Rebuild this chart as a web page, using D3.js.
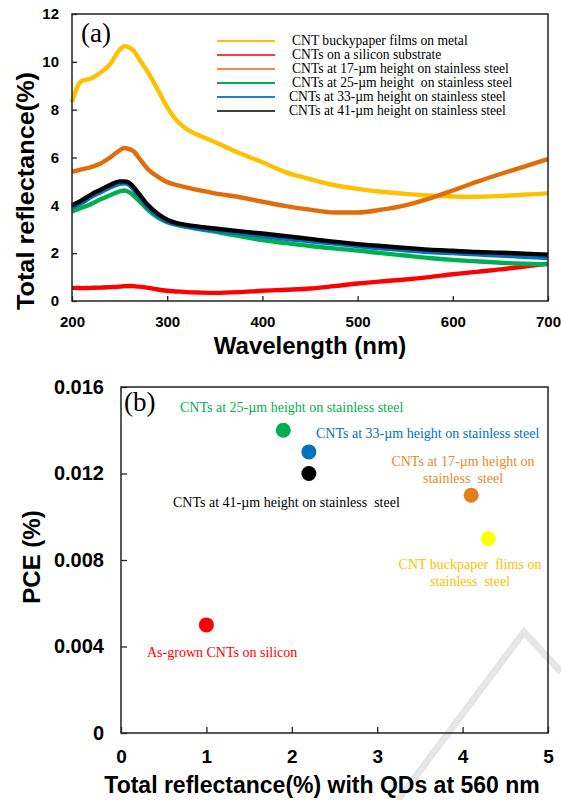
<!DOCTYPE html>
<html lang="en">
<head>
<meta charset="UTF-8">
<title>CNT reflectance and PCE</title>
<script src="https://cdn.jsdelivr.net/npm/d3@7"></script>
<style>
    body { margin: 0; background: #fff; }
    svg { display: block; }
    .tick line { stroke: #222; stroke-width: 1.3; }
    .tick text { font-family: "Liberation Sans", Arial, sans-serif; font-weight: bold; fill: #000; }
    .frame { fill: none; stroke: #222; stroke-width: 1.5; }
    .title { font-family: "Liberation Sans", Arial, sans-serif; font-weight: bold; fill: #000; }
    .serif { font-family: "Liberation Serif", "Times New Roman", serif; }
</style>
</head>
<body>
<svg id="chart" width="561" height="800"></svg>
<script>
// ---- panel (a) data: reflectance spectra ----
const wavelength = [200,205,210,220,230,240,250,255,260,265,270,280,290,300,310,320,335,350,375,400,425,450,475,500,525,550,575,600,625,650,675,700];
const buckypaper = [8.3,8.9,9.2,9.3,9.55,9.9,10.5,10.65,10.6,10.45,10.15,9.55,8.85,8.1,7.55,7.2,6.9,6.65,6.2,5.8,5.38,5.1,4.85,4.69,4.57,4.48,4.41,4.37,4.36,4.39,4.44,4.5];
const onSilicon  = [0.55,0.55,0.54,0.55,0.56,0.58,0.6,0.62,0.63,0.62,0.6,0.55,0.48,0.43,0.4,0.37,0.35,0.34,0.37,0.43,0.47,0.52,0.62,0.73,0.82,0.9,1.0,1.12,1.22,1.32,1.44,1.56];
const height17   = [5.4,5.45,5.5,5.6,5.75,6.0,6.3,6.4,6.35,6.25,6.0,5.5,5.2,4.97,4.85,4.75,4.62,4.5,4.35,4.15,3.97,3.82,3.7,3.7,3.82,4.0,4.28,4.62,4.98,5.31,5.62,5.93];
const height25   = [3.75,3.82,3.9,4.05,4.25,4.42,4.58,4.62,4.55,4.4,4.2,3.8,3.5,3.3,3.18,3.1,3.0,2.9,2.72,2.55,2.42,2.3,2.2,2.11,2.0,1.9,1.8,1.72,1.66,1.6,1.56,1.53];
const height33   = [3.9,4.0,4.1,4.35,4.55,4.75,4.9,4.92,4.85,4.65,4.4,3.9,3.55,3.3,3.2,3.12,3.02,2.95,2.83,2.72,2.6,2.5,2.4,2.3,2.2,2.12,2.05,2.0,1.95,1.9,1.85,1.8];
const height41   = [4.0,4.1,4.2,4.45,4.65,4.85,5.0,5.0,4.95,4.75,4.5,4.0,3.65,3.4,3.26,3.18,3.1,3.03,2.92,2.82,2.71,2.6,2.48,2.38,2.3,2.22,2.15,2.1,2.05,2.02,1.98,1.94];

const legendNames = [
    "CNT buckypaper films on metal",
    "CNTs on a silicon substrate",
    "CNTs at 17-\u00b5m height on stainless steel",
    "CNTs at 25-\u00b5m height  on stainless steel",
    "CNTs at 33-\u00b5m height on stainless steel",
    "CNTs at 41-\u00b5m height on stainless steel"
];
const xTicksA = [200,300,400,500,600,700];
const yTicksA = [0,2,4,6,8,10,12];

// ---- panel (b) data: PCE vs reflectance ----
const pceReflect = [1.9, 2.2, 2.2, 4.1, 4.3, 1.0];
const pceValue   = [0.014, 0.013, 0.012, 0.011, 0.009, 0.005];
const pceLabels  = [
    ["CNTs at 25-\u00b5m height on stainless steel"],
    ["CNTs at 33-\u00b5m height on stainless steel"],
    ["CNTs at 41-\u00b5m height on stainless  steel"],
    ["CNTs at 17-\u00b5m height on", "stainless  steel"],
    ["CNT buckpaper  flims on", "stainless  steel"],
    ["As-grown CNTs on silicon"]
];
const xTicksB = [0,1,2,3,4,5];
const yTicksB = [0,0.004,0.008,0.012,0.016];

// styling
const lineColors  = ["#FFC000","#FF0000","#E36C0A","#00B050","#0070C0","#000000"];
const legendColors = ["#FFC000","#FF3B3B","#EE8A4A","#00B050","#1F80D0","#404040"];
const dotColors   = ["#00B050","#0070C0","#000000","#E3801C","#FFFF00","#FF0000"];
const textColors  = ["#00B050","#0070C0","#000000","#E8892B","#FFC000","#FF0000"];
// label placement: [x, y of first baseline, anchor]
const labelPos = [[180,412,"start"],[316,438,"start"],[173,507,"start"],[463,466,"middle"],[470,569,"middle"],[147,657,"start"]];

const svg = d3.select("#chart");

// faint watermark stroke in the bottom right corner
svg.append("path")
    .attr("d", "M398,800 L524,632 L561,672")
    .attr("fill", "none")
    .attr("stroke", "#e6e6e6")
    .attr("stroke-width", 7);

// ================= panel (a) =================
const A = {left: 72, right: 548, top: 14, bottom: 301};
const xA = d3.scaleLinear().domain([200,700]).range([A.left, A.right]);
const yA = d3.scaleLinear().domain([0,12]).range([A.bottom, A.top]);

const gA = svg.append("g");

const series = [buckypaper, onSilicon, height17, height25, height33, height41];
const line = d3.line()
    .x((d,i) => xA(wavelength[i]))
    .y(d => yA(d))
    .curve(d3.curveMonotoneX);

const drawOrder = [0,2,1,3,4,5];
drawOrder.forEach(k => {
    gA.append("path")
        .datum(series[k])
        .attr("d", line)
        .attr("fill", "none")
        .attr("stroke", lineColors[k])
        .attr("stroke-width", 4.4)
        .attr("stroke-linejoin", "round");
});

gA.append("g")
    .attr("transform", `translate(0,${A.bottom})`)
    .call(d3.axisBottom(xA).tickValues(xTicksA).tickSizeInner(-5).tickSizeOuter(0).tickPadding(15))
    .call(g => g.select(".domain").remove())
    .selectAll("text").style("font-size", "15px");

gA.append("g")
    .attr("transform", `translate(${A.left},0)`)
    .call(d3.axisLeft(yA).tickValues(yTicksA).tickSizeInner(-5).tickSizeOuter(0).tickPadding(13))
    .call(g => g.select(".domain").remove())
    .selectAll("text").style("font-size", "15px");

gA.append("rect").attr("class", "frame")
    .attr("x", A.left).attr("y", A.top)
    .attr("width", A.right - A.left).attr("height", A.bottom - A.top);

gA.append("text").attr("class", "serif")
    .attr("x", 81).attr("y", 42)
    .style("font-size", "27px")
    .text("(a)");

// legend
const leg = gA.append("g");
const legY = [41, 55, 69, 83, 97, 111];
legendNames.forEach((name, i) => {
    leg.append("line")
        .attr("x1", 217).attr("x2", 275)
        .attr("y1", legY[i]).attr("y2", legY[i])
        .attr("stroke", legendColors[i]).attr("stroke-width", 2.2);
    leg.append("text").attr("class", "serif")
        .attr("x", i < 4 ? 292 : 289).attr("y", legY[i] + 4)
        .style("font-size", "13.6px")
        .style("white-space", "pre")
        .text(name);
});

gA.append("text").attr("class", "title")
    .attr("x", (A.left + A.right) / 2). attr("y", 354)
    .attr("text-anchor", "middle")
    .style("font-size", "24px")
    .text("Wavelength (nm)");

gA.append("text").attr("class", "title")
    .attr("transform", "translate(34,191) rotate(-90)")
    .attr("text-anchor", "middle")
    .attr("textLength", 238)
    .attr("lengthAdjust", "spacingAndGlyphs")
    .style("font-size", "24px")
    .text("Total reflectance(%)");

// ================= panel (b) =================
const B = {left: 121, right: 548, top: 387, bottom: 733};
const xB = d3.scaleLinear().domain([0,5]).range([B.left, B.right]);
const yB = d3.scaleLinear().domain([0,0.016]).range([B.bottom, B.top]);

const gB = svg.append("g");

gB.append("g")
    .attr("transform", `translate(0,${B.bottom})`)
    .call(d3.axisBottom(xB).tickValues(xTicksB).tickSizeInner(-6).tickSizeOuter(0).tickPadding(17)
        .tickFormat(d3.format("d")))
    .call(g => g.select(".domain").remove())
    .selectAll("text").style("font-size", "19px");

gB.append("g")
    .attr("transform", `translate(${B.left},0)`)
    .call(d3.axisLeft(yB).tickValues(yTicksB).tickSizeInner(-6).tickSizeOuter(0).tickPadding(17)
        .tickFormat(d => d === 0 ? "0" : d3.format(".3f")(d)))
    .call(g => g.select(".domain").remove())
    .selectAll("text").style("font-size", "20px");

gB.append("rect").attr("class", "frame")
    .attr("x", B.left).attr("y", B.top)
    .attr("width", B.right - B.left).attr("height", B.bottom - B.top);

gB.append("text").attr("class", "serif")
    .attr("x", 124).attr("y", 411)
    .style("font-size", "27px")
    .text("(b)");

gB.selectAll("circle.pt")
    .data(pceReflect)
    .join("circle")
    .attr("class", "pt")
    .attr("cx", d => xB(d))
    .attr("cy", (d,i) => yB(pceValue[i]))
    .attr("r", 7.5)
    .attr("fill", (d,i) => dotColors[i]);

pceLabels.forEach((lines, i) => {
    const [lx, ly, anchor] = labelPos[i];
    const t = gB.append("text").attr("class", "serif")
        .attr("text-anchor", anchor)
        .style("font-size", "14px")
        .style("white-space", "pre")
        .attr("fill", textColors[i]);
    lines.forEach((s, j) => {
        t.append("tspan").attr("x", lx).attr("y", ly + j * 17).text(s);
    });
});

gB.append("text").attr("class", "title")
    .attr("x", 322).attr("y", 793)
    .attr("text-anchor", "middle")
    .style("font-size", "23px")
    .text("Total reflectance(%) with QDs at 560 nm");

gB.append("text").attr("class", "title")
    .attr("transform", "translate(40,557) rotate(-90)")
    .attr("text-anchor", "middle")
    .style("font-size", "24px")
    .text("PCE (%)");
</script>
</body>
</html>
